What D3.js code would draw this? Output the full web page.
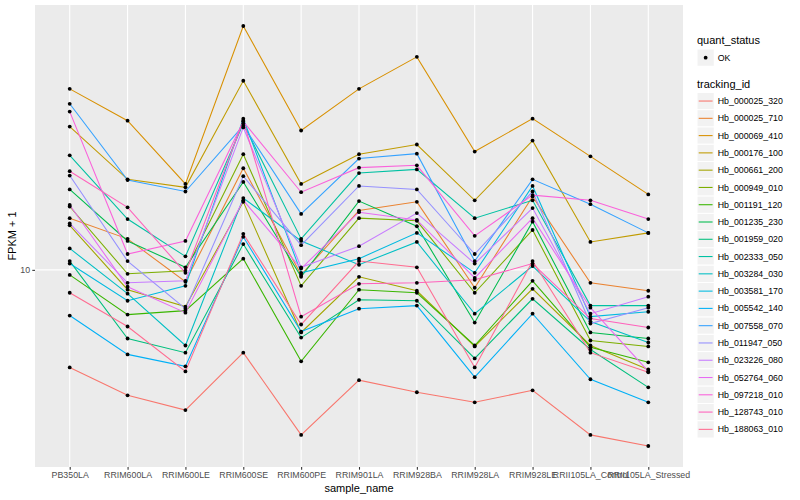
<!DOCTYPE html>
<html><head><meta charset="utf-8">
<script src="https://cdn.jsdelivr.net/npm/d3@7"></script>
<style>body{margin:0;background:#fff}svg{font-family:"Liberation Sans",Arial,Helvetica,sans-serif}</style>
</head><body><svg id="c" width="800" height="500"></svg>
<script>
const samples = ["PB350LA","RRIM600LA","RRIM600LE","RRIM600SE","RRIM600PE","RRIM901LA","RRIM928BA","RRIM928LA","RRIM928LE","RRII105LA_Control","RRII105LA_Stressed"];
const trackingIds = ["Hb_000025_320","Hb_000025_710","Hb_000069_410","Hb_000176_100","Hb_000661_200","Hb_000949_010","Hb_001191_120","Hb_001235_230","Hb_001959_020","Hb_002333_050","Hb_003284_030","Hb_003581_170","Hb_005542_140","Hb_007558_070","Hb_011947_050","Hb_023226_080","Hb_052764_060","Hb_097218_010","Hb_128743_010","Hb_188063_010"];
const quantStatus = ["OK"];
const yTicks = [10];
// FPKM + 1 per tracking_id, one value per sample
const fpkm = [
  [4.71, 3.80, 3.39, 5.28, 2.80, 4.27, 3.89, 3.60, 3.95, 2.80, 2.57],
  [14.9, 12.7, 9.12, 21.9, 9.62, 15.8, 16.9, 8.71, 17.6, 9.05, 8.51],
  [40.4, 31.6, 19.4, 65.6, 29.3, 40.4, 51.7, 24.9, 32.1, 24.0, 17.9],
  [30.2, 20.1, 18.9, 43.0, 19.4, 24.4, 26.3, 17.1, 27.1, 12.4, 13.3],
  [14.1, 8.58, 7.53, 16.9, 6.17, 9.48, 8.51, 5.54, 8.64, 5.58, 4.64],
  [16.3, 9.70, 9.93, 24.4, 8.84, 14.9, 14.6, 8.38, 13.6, 5.80, 5.54],
  [9.62, 7.08, 7.30, 10.9, 4.94, 8.58, 8.38, 5.58, 9.19, 5.50, 4.90],
  [18.6, 12.5, 10.2, 19.7, 9.48, 17.0, 14.0, 6.66, 14.5, 6.17, 5.89],
  [10.7, 5.89, 5.28, 12.2, 5.93, 7.94, 7.88, 5.05, 8.00, 5.41, 4.04],
  [24.2, 14.8, 11.1, 30.9, 12.7, 21.1, 21.7, 14.9, 17.1, 7.59, 7.59],
  [11.8, 8.32, 5.58, 17.4, 12.5, 10.4, 12.4, 7.13, 10.3, 6.71, 5.71],
  [10.5, 7.88, 8.84, 32.1, 9.77, 10.9, 13.3, 9.77, 19.1, 6.97, 7.24],
  [7.03, 5.21, 4.75, 12.9, 6.21, 7.41, 7.59, 4.37, 7.13, 4.30, 3.60],
  [36.0, 20.0, 18.3, 30.4, 15.4, 23.6, 24.5, 10.7, 20.1, 16.6, 13.3],
  [20.7, 10.7, 7.41, 20.6, 12.1, 19.1, 18.6, 11.3, 18.3, 6.61, 7.47],
  [14.3, 9.05, 9.19, 30.0, 10.2, 12.0, 15.5, 10.5, 16.1, 7.13, 8.13],
  [16.5, 8.78, 7.19, 17.1, 10.1, 15.6, 14.7, 9.40, 14.9, 7.47, 4.57],
  [33.9, 11.3, 12.5, 31.4, 18.2, 22.0, 22.4, 13.0, 17.8, 17.1, 14.8],
  [21.4, 16.2, 9.77, 31.6, 6.97, 8.98, 9.05, 9.26, 10.5, 6.87, 6.41],
  [8.38, 6.46, 4.57, 13.2, 6.56, 10.7, 10.2, 4.71, 10.7, 5.28, 4.54]
];
const palette = ["#F8766D","#EA8331","#D89000","#C09B00","#A3A500","#7CAE00","#39B600","#00BB4E","#00BF7D","#00C1A3","#00BFC4","#00BAE0","#00B0F6","#35A2FF","#9590FF","#C77CFF","#E76BF3","#FA62DB","#FF62BC","#FF6C91"];

const svg = d3.select("#c");
const P = {x0: 35, x1: 683, y0: 5, y1: 467};
const x = d3.scalePoint().domain(samples).range([P.x0, P.x1]).padding(0.6);
const all = fpkm.flat();
const lo = Math.log10(d3.min(all)), hi = Math.log10(d3.max(all));
const pad = (hi - lo) * 0.05;
const y = d3.scaleLog().domain([Math.pow(10, lo - pad), Math.pow(10, hi + pad)]).range([P.y1, P.y0]);
const color = d3.scaleOrdinal().domain(trackingIds).range(palette);

svg.append("rect").attr("x", P.x0).attr("y", P.y0).attr("width", P.x1 - P.x0).attr("height", P.y1 - P.y0).attr("fill", "#EBEBEB");

const grid = svg.append("g");
grid.selectAll("line.v").data(samples).join("line").attr("class", "v")
  .attr("x1", d => x(d)).attr("x2", d => x(d)).attr("y1", P.y0).attr("y2", P.y1)
  .attr("stroke", "#fff").attr("stroke-width", 1.07);
grid.selectAll("line.h").data(yTicks).join("line").attr("class", "h")
  .attr("x1", P.x0).attr("x2", P.x1).attr("y1", d => y(d)).attr("y2", d => y(d))
  .attr("stroke", "#fff").attr("stroke-width", 1.07);

const xa = svg.append("g").attr("transform", `translate(0,${P.y1})`)
  .call(d3.axisBottom(x).tickSize(2.7).tickPadding(2.2));
const ya = svg.append("g").attr("transform", `translate(${P.x0},0)`)
  .call(d3.axisLeft(y).tickValues(yTicks).tickFormat(d3.format("d")).tickSize(2.7).tickPadding(2.2));
[xa, ya].forEach(a => {
  a.select(".domain").remove();
  a.selectAll(".tick line").attr("stroke", "#333333").attr("stroke-width", 1.07);
  a.selectAll(".tick text").attr("fill", "#4D4D4D").style("font-size", "8.8px").style("font-family", "Liberation Sans, Arial, sans-serif");
});

const line = d3.line().x((d, i) => x(samples[i])).y(d => y(d));
svg.append("g").selectAll("path").data(fpkm).join("path")
  .attr("d", d => line(d)).attr("fill", "none")
  .attr("stroke", (d, i) => color(trackingIds[i])).attr("stroke-width", 1.07);

const pts = [];
fpkm.forEach((row, k) => row.forEach((v, i) => pts.push({s: samples[i], v})));
svg.append("g").selectAll("circle").data(pts).join("circle")
  .attr("cx", d => x(d.s)).attr("cy", d => y(d.v)).attr("r", 1.9).attr("fill", "#000");

svg.append("text").attr("x", (P.x0 + P.x1) / 2).attr("y", 492).attr("text-anchor", "middle")
  .style("font-size", "11px").text("sample_name");
svg.append("text").attr("transform", `translate(16,${(P.y0 + P.y1) / 2}) rotate(-90)`).attr("text-anchor", "middle")
  .style("font-size", "11px").text("FPKM + 1");

// legends
const L = svg.append("g");
const kx = 697, kw = 17.28;
L.append("text").attr("x", kx).attr("y", 44).style("font-size", "11px").text("quant_status");
const q = L.selectAll("g.q").data(quantStatus).join("g").attr("class", "q")
  .attr("transform", (d, i) => `translate(${kx},${49 + i * kw})`);
q.append("rect").attr("width", kw).attr("height", kw).attr("fill", "#F2F2F2").attr("stroke", "#fff");
q.append("circle").attr("cx", kw / 2).attr("cy", kw / 2).attr("r", 1.9).attr("fill", "#000");
q.append("text").attr("x", kw + 3.5).attr("y", kw / 2).attr("dy", "0.35em").style("font-size", "8.8px").text(d => d);

L.append("text").attr("x", kx).attr("y", 88).style("font-size", "11px").text("tracking_id");
const t = L.selectAll("g.t").data(trackingIds).join("g").attr("class", "t")
  .attr("transform", (d, i) => `translate(${kx},${92.4 + i * kw})`);
t.append("rect").attr("width", kw).attr("height", kw).attr("fill", "#F2F2F2").attr("stroke", "#fff");
t.append("line").attr("x1", 1.7).attr("x2", kw - 1.7).attr("y1", kw / 2).attr("y2", kw / 2)
  .attr("stroke", d => color(d)).attr("stroke-width", 1.07);
t.append("text").attr("x", kw + 3.5).attr("y", kw / 2).attr("dy", "0.35em").style("font-size", "8.8px").text(d => d);
</script></body></html>
